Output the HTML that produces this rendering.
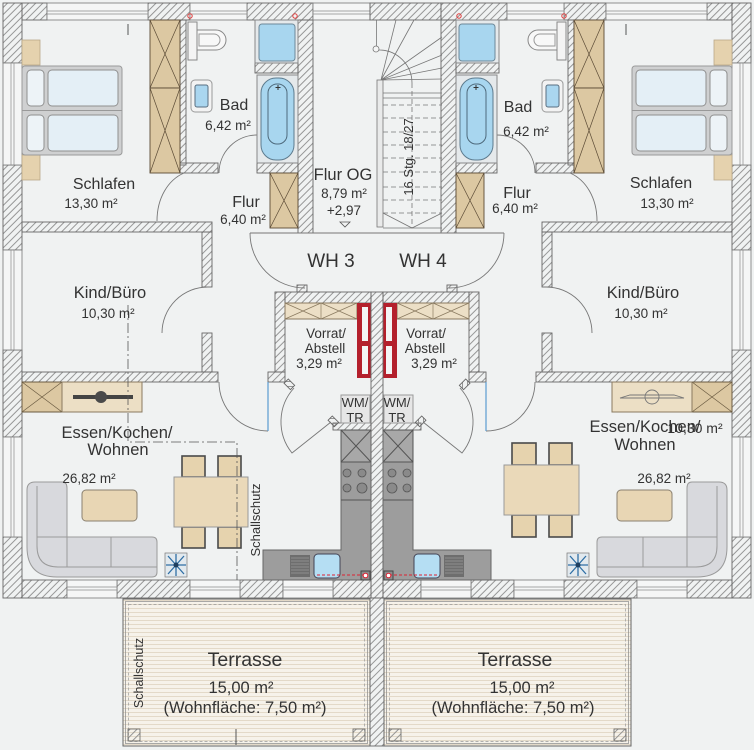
<!DOCTYPE html>
<html><head><meta charset="utf-8"><style>
html,body{margin:0;padding:0;background:#f0f2f2;}
svg{display:block;}
text{font-family:"Liberation Sans",Arial,sans-serif;fill:#333;}
</style></head><body>
<svg width="754" height="750" viewBox="0 0 754 750" xmlns="http://www.w3.org/2000/svg" xmlns:xlink="http://www.w3.org/1999/xlink">
<defs>
 <pattern id="h1" width="5" height="5" patternUnits="userSpaceOnUse" patternTransform="rotate(45)"><line x1="2.5" y1="0" x2="2.5" y2="5" stroke="#8c8c8c" stroke-width="0.9"/></pattern>
 <pattern id="h2" width="5" height="5" patternUnits="userSpaceOnUse" patternTransform="rotate(-45)"><line x1="2.5" y1="0" x2="2.5" y2="5" stroke="#8c8c8c" stroke-width="0.9"/></pattern>
 <pattern id="st" width="6" height="4" patternUnits="userSpaceOnUse"><rect width="6" height="4" fill="#f6f2ea"/><line x1="0" y1="0.5" x2="6" y2="0.5" stroke="#e3d9c8" stroke-width="1"/></pattern>
 <g id="half">
  <!-- walls (fill inherited hatch) -->
  <g stroke="#666" stroke-width="0.9">
   <rect x="3" y="3" width="19" height="60"/>
   <rect x="3" y="165" width="19" height="85"/>
   <rect x="3" y="350" width="19" height="87"/>
   <rect x="3" y="537" width="19" height="61"/>
   <rect x="22" y="3" width="25" height="17"/>
   <rect x="148" y="3" width="42" height="17"/>
   <rect x="247" y="3" width="66" height="17"/>
   <rect x="22" y="580" width="45" height="18"/>
   <rect x="117" y="580" width="73" height="18"/>
   <rect x="240" y="580" width="43" height="18"/>
   <rect x="333" y="580" width="38" height="18"/>
   <rect x="180" y="20" width="6" height="145"/>
   <rect x="180" y="163" width="38" height="10"/>
   <rect x="257" y="163" width="41" height="10"/>
   <rect x="255" y="63" width="43" height="10"/>
   <rect x="298" y="20" width="15" height="213"/>
   <rect x="22" y="222" width="190" height="10"/>
   <rect x="202" y="232" width="10" height="55"/>
   <rect x="202" y="333" width="10" height="39"/>
   <rect x="22" y="372" width="196" height="10"/>
   <rect x="268" y="372" width="17" height="10"/>
   <rect x="275" y="292" width="10" height="80"/>
   <rect x="285" y="292" width="86" height="11"/>
   <rect x="297" y="285" width="10" height="7"/>
   <rect x="333" y="423" width="38" height="7"/>
   <rect x="-4" y="-3" width="9" height="6" transform="translate(289,384) rotate(45)"/>
   <rect x="-4" y="-3" width="9" height="6" transform="translate(333,421) rotate(45)"/>
  </g>
  <!-- windows -->
  <g fill="#f5f6f6" stroke="#777" stroke-width="0.8">
   <rect x="3" y="63" width="19" height="102"/>
   <rect x="3" y="250" width="19" height="100"/>
   <rect x="3" y="437" width="19" height="100"/>
   <rect x="47" y="3" width="101" height="17"/>
   <rect x="190" y="3" width="57" height="17"/>
   <rect x="67" y="580" width="50" height="18"/>
   <rect x="190" y="580" width="50" height="18"/>
   <rect x="283" y="580" width="50" height="18"/>
  </g>
  <g stroke="#8a8a8a" stroke-width="0.7" fill="none">
   <path d="M11,63 V165 M14,63 V165 M11,250 V350 M14,250 V350 M11,437 V537 M14,437 V537"/>
   <path d="M47,11 H148 M47,14 H148 M190,11 H247 M190,14 H247"/>
   <path d="M67,587 H117 M67,590 H117 M190,587 H240 M190,590 H240 M283,587 H333 M283,590 H333"/>
  </g>
  <!-- doors -->
  <g fill="none" stroke="#777" stroke-width="0.9">
   <path d="M157,221 C157,198 168,180 184,173"/>
   <path d="M219,173 A38,38 0 0 1 257,135"/>
   <path d="M162,333 A46,46 0 0 1 208,287"/>
   <path d="M219,382 A49,49 0 0 0 268,431"/>
   <path d="M294,388 A50,50 0 0 0 292,453 L331,422"/>
   <path d="M250,233 H377"/>
   <path d="M250,233 A55,55 0 0 0 305,288"/>
  </g>
  <line x1="268" y1="382" x2="268" y2="431" stroke="#5b9bd0" stroke-width="1.2"/>
  <!-- bed -->
  <rect x="22" y="40" width="18" height="25" fill="#e5d2ae" stroke="#b9a888" stroke-width="0.8"/>
  <rect x="22" y="155" width="18" height="25" fill="#e5d2ae" stroke="#b9a888" stroke-width="0.8"/>
  <rect x="22" y="66" width="100" height="89" rx="3" fill="#cfd0d1" stroke="#9a9a9a"/>
  <line x1="22" y1="110.5" x2="122" y2="110.5" stroke="#999"/>
  <rect x="27" y="70" width="17" height="36" rx="4" fill="#edf3f7" stroke="#8f8f8f"/>
  <rect x="48" y="70" width="70" height="36" rx="4" fill="#e4eff6" stroke="#8f8f8f"/>
  <rect x="27" y="115" width="17" height="36" rx="4" fill="#edf3f7" stroke="#8f8f8f"/>
  <rect x="48" y="115" width="70" height="36" rx="4" fill="#e4eff6" stroke="#8f8f8f"/>
  <line x1="128" y1="24" x2="128" y2="35" stroke="#555"/>
  <!-- wardrobes -->
  <g fill="#dcc8a2" stroke="#5a4a35" stroke-width="0.9">
   <rect x="150" y="20" width="30" height="68"/>
   <rect x="150" y="88" width="30" height="85"/>
   <rect x="270" y="173" width="28" height="55"/>
  </g>
  <path d="M150,20 L180,88 M180,20 L150,88 M150,88 L180,173 M180,88 L150,173 M270,173 L298,228 M298,173 L270,228" stroke="#5a4a35" stroke-width="0.7" fill="none"/>
  <!-- toilet, sink -->
  <rect x="188" y="22" width="9" height="38" fill="#f4f4f4" stroke="#888"/>
  <path d="M197,30 H216 A10,10 0 0 1 216,50 H197 Z" fill="#f8f8f8" stroke="#888"/>
  <path d="M199,34 H214 A6,6 0 0 1 214,46 H199 Z" fill="none" stroke="#999"/>
  <rect x="191" y="80" width="21" height="32" rx="4" fill="#f3f3f3" stroke="#999"/>
  <rect x="195" y="85" width="13" height="22" rx="2" fill="#aad6ef" stroke="#5a6f80"/>
  <!-- shower, tub -->
  <rect x="255" y="20" width="43" height="43" fill="#e5e9eb" stroke="#888"/>
  <rect x="259" y="24" width="36" height="37" rx="3" fill="#a8d6ef" stroke="#6d8898"/>
  <rect x="257" y="75" width="41" height="88" fill="#e5e9eb" stroke="#888"/>
  <rect x="261" y="78" width="33" height="82" rx="15" fill="#a8d6ef" stroke="#5d7b8e"/>
  <rect x="268" y="84" width="19" height="60" rx="9" fill="none" stroke="#4e6a7c"/>
  <path d="M278,85 v5 M275.5,87.5 h5" stroke="#333" fill="none"/>
  <circle cx="190" cy="16" r="2.2" fill="none" stroke="#e03a3a" stroke-width="1"/>
  <circle cx="295" cy="16" r="2.2" fill="none" stroke="#e03a3a" stroke-width="1"/>
  <!-- sideboard -->
  <rect x="22" y="382" width="40" height="30" fill="#dcc8a2" stroke="#6a5a40"/>
  <path d="M22,382 L62,412 M62,382 L22,412" stroke="#6a5a40" stroke-width="0.7" fill="none"/>
  <rect x="62" y="382" width="80" height="30" fill="#ecdfc5" stroke="#8a7a60"/>
  <!-- sofa -->
  <path d="M27,490 Q27,482 35,482 H62 Q67,482 67,488 V537 H152 Q157,537 157,542 V572 Q157,577 152,577 H57 Q27,577 27,547 Z" fill="#d8d9dd" stroke="#9a9a9a"/>
  <path d="M37,486 V546 Q37,567 58,567 H157 M37,537 H67 M67,537 V567 M111,537 V567" fill="none" stroke="#9a9a9a"/>
  <rect x="82" y="490" width="55" height="31" rx="4" fill="#e8d6b4" stroke="#8a8070"/>
  <!-- plant -->
  <rect x="165" y="553" width="22" height="24" fill="#e2e9ee" stroke="#777" stroke-width="0.7"/>
  <path d="M168,556 L184,574 M184,556 L168,574 M176,554 V576 M166,565 H186" stroke="#2f6fa5" stroke-width="1.3" fill="none"/>
  <circle cx="176" cy="565" r="2.5" fill="#1f3f5f"/>
  <!-- kitchen -->
  <path d="M341,430 H371 V580 H263 V550 H341 Z" fill="#9d9d9d" stroke="#666"/>
  <rect x="341" y="430" width="30" height="32" fill="#a8a8a8" stroke="#555"/>
  <path d="M341,430 L371,462 M371,430 L341,462 M341,500 H371" stroke="#555" fill="none"/>
  <g fill="#8a8a8a" stroke="#555" stroke-width="0.8">
   <circle cx="347" cy="473" r="4"/><circle cx="362" cy="473" r="4"/>
   <circle cx="347" cy="488" r="4"/><circle cx="362" cy="488" r="5"/>
  </g>
  <rect x="290" y="555" width="20" height="22" fill="#6e6e6e"/>
  <path d="M291,558 H309 M291,561 H309 M291,564 H309 M291,567 H309 M291,570 H309 M291,573 H309" stroke="#9a9a9a" stroke-width="0.8" fill="none"/>
  <rect x="314" y="554" width="26" height="24" rx="4" fill="#b5def3" stroke="#445"/>
  <rect x="361" y="571" width="9" height="9" fill="#8c8c8c" stroke="#444"/>
  <path d="M317,575 H363" stroke="#d23" stroke-dasharray="3,2" fill="none"/>
  <circle cx="365.5" cy="575.5" r="2.3" fill="#fff" stroke="#d23"/>
  <rect x="341" y="395" width="29" height="28" fill="#e6e6e6" stroke="#9a9a9a"/>
  <!-- vorrat -->
  <rect x="285" y="303" width="72" height="16" fill="#ecdfc6" stroke="#8a7a60"/>
  <path d="M285,303 L321,319 M321,303 L285,319 M321,303 L357,319 M357,303 L321,319 M321,303 V319" stroke="#8a7a60" stroke-width="0.7" fill="none"/>
  <rect x="357" y="303" width="14" height="75" fill="#b4202c"/>
  <rect x="362" y="307" width="6" height="34" fill="#f4f4f4"/>
  <rect x="362" y="346" width="6" height="28" fill="#f4f4f4"/>
 </g>
</defs>
<rect width="754" height="750" fill="#f0f2f2"/>
<use xlink:href="#half" href="#half" fill="url(#h1)"/>
<use xlink:href="#half" href="#half" fill="url(#h2)" transform="matrix(-1 0 0 1 754 0)"/>

<!-- central walls -->
<rect x="371" y="292" width="12" height="306" fill="url(#h1)" stroke="#666" stroke-width="0.9"/>
<rect x="313" y="3" width="57" height="17" fill="#f5f6f6" stroke="#777" stroke-width="0.8"/>
<path d="M313,11 H370 M313,14 H370" stroke="#8a8a8a" stroke-width="0.7"/>
<rect x="370" y="3" width="71" height="17" fill="url(#h1)" stroke="#666" stroke-width="0.9"/>

<!-- stairs -->
<g fill="none" stroke="#777" stroke-width="0.8">
 <line x1="376.5" y1="20" x2="376.5" y2="46"/>
 <circle cx="376" cy="49" r="3" fill="#f4f5f5"/>
 <path d="M379,50 A33,33 0 0 1 412,83"/>
 <path d="M381,80 L396,20 M381,80 L414,20 M381,80 L442,37 M381,80 L442,55 M381,80 L442,68 M381,80 L442,79"/>
 <path d="M383,93 H442 M383,98 H442"/>
 <path d="M383,105 H442 M383,118 H442 M383,132 H442 M383,145 H442 M383,158 H442 M383,172 H442 M383,187 H442 M383,200 H442 M383,213 H442" stroke-dasharray="5,3"/>
 <line x1="412" y1="83" x2="412" y2="228" stroke-dasharray="5,3"/>
 <path d="M383,213 L412,228 L442,213"/>
 <line x1="383" y1="228" x2="442" y2="228"/>
</g>
<rect x="377" y="80" width="6" height="147" fill="#e9eaea" stroke="#777" stroke-width="0.8"/>
<text transform="translate(413,157) rotate(-90)" text-anchor="middle" font-size="13">16 Stg. 18/27</text>
<path d="M340,222 L350,222 L345,227 Z" fill="none" stroke="#555" stroke-width="0.8"/>

<!-- TV symbols -->
<rect x="73" y="395" width="60" height="4" fill="#444"/>
<circle cx="101" cy="397" r="6" fill="#4a4a4a"/>
<g fill="none" stroke="#777" stroke-width="0.9">
 <path d="M620,398 L630,395 H674 L684,398 Z"/>
 <circle cx="652" cy="397" r="7"/>
</g>

<!-- dining tables -->
<g fill="#e6d3ae" stroke="#4a4a4a" stroke-width="1.6">
 <rect x="182" y="456" width="23" height="21"/>
 <rect x="218" y="456" width="23" height="21"/>
 <rect x="182" y="527" width="23" height="21"/>
 <rect x="218" y="527" width="23" height="21"/>
 <rect x="512" y="443" width="24" height="22"/>
 <rect x="549" y="443" width="23" height="22"/>
 <rect x="512" y="515" width="24" height="22"/>
 <rect x="549" y="515" width="23" height="22"/>
</g>
<rect x="174" y="477" width="74" height="50" fill="#ead9b9" stroke="#999"/>
<rect x="504" y="465" width="75" height="50" fill="#ead9b9" stroke="#999"/>
<path d="M128,305 V442 H237 V580" fill="none" stroke="#555" stroke-width="0.8" stroke-dasharray="10,3,2,3"/>

<!-- terraces -->
<rect x="370" y="598" width="14" height="148" fill="url(#h1)" stroke="#666" stroke-width="0.9"/>
<g>
 <rect x="123" y="599" width="247" height="147" fill="url(#st)" stroke="#666"/>
 <rect x="125.5" y="601.5" width="242" height="142" fill="none" stroke="#888" stroke-width="0.7"/>
 <rect x="128.5" y="604.5" width="236" height="137" fill="none" stroke="#999" stroke-dasharray="3,2" stroke-width="0.7"/>
 <rect x="128" y="729" width="12" height="12" fill="url(#h1)" stroke="#666" stroke-width="0.8"/>
 <rect x="353" y="729" width="12" height="12" fill="url(#h1)" stroke="#666" stroke-width="0.8"/>
 <line x1="236" y1="729" x2="236" y2="745" stroke="#555"/>
 <rect x="384" y="599" width="247" height="147" fill="url(#st)" stroke="#666"/>
 <rect x="386.5" y="601.5" width="242" height="142" fill="none" stroke="#888" stroke-width="0.7"/>
 <rect x="389.5" y="604.5" width="236" height="137" fill="none" stroke="#999" stroke-dasharray="3,2" stroke-width="0.7"/>
 <rect x="389" y="729" width="12" height="12" fill="url(#h1)" stroke="#666" stroke-width="0.8"/>
 <rect x="614" y="729" width="12" height="12" fill="url(#h1)" stroke="#666" stroke-width="0.8"/>
</g>

<!-- labels -->
<g text-anchor="middle">
 <text x="104" y="189" font-size="16">Schlafen</text>
 <text x="91" y="208" font-size="13.5">13,30 m²</text>
 <text x="234" y="110" font-size="16">Bad</text>
 <text x="228" y="130" font-size="13.5">6,42 m²</text>
 <text x="246" y="207" font-size="16">Flur</text>
 <text x="243" y="224" font-size="13.5">6,40 m²</text>
 <text x="343" y="180" font-size="16.5">Flur OG</text>
 <text x="344" y="198" font-size="13.5">8,79 m²</text>
 <text x="344" y="215" font-size="13.5">+2,97</text>
 <text x="331" y="267" font-size="19">WH 3</text>
 <text x="423" y="267" font-size="19">WH 4</text>
 <text x="110" y="298" font-size="16.5">Kind/Büro</text>
 <text x="108" y="318" font-size="13.5">10,30 m²</text>
 <text x="326" y="338" font-size="13.5">Vorrat/</text>
 <text x="325" y="353" font-size="13.5">Abstell</text>
 <text x="319" y="368" font-size="13.5">3,29 m²</text>
 <text x="355" y="407" font-size="13">WM/</text>
 <text x="355" y="422" font-size="13">TR</text>
 <text x="117" y="438" font-size="16.5">Essen/Kochen/</text>
 <text x="118" y="455" font-size="16.5">Wohnen</text>
 <text x="89" y="483" font-size="13.5">26,82 m²</text>

 <text x="518" y="112" font-size="16">Bad</text>
 <text x="526" y="136" font-size="13.5">6,42 m²</text>
 <text x="517" y="198" font-size="16">Flur</text>
 <text x="515" y="213" font-size="13.5">6,40 m²</text>
 <text x="661" y="188" font-size="16">Schlafen</text>
 <text x="667" y="208" font-size="13.5">13,30 m²</text>
 <text x="643" y="298" font-size="16.5">Kind/Büro</text>
 <text x="641" y="318" font-size="13.5">10,30 m²</text>
 <text x="426" y="338" font-size="13.5">Vorrat/</text>
 <text x="425" y="353" font-size="13.5">Abstell</text>
 <text x="434" y="368" font-size="13.5">3,29 m²</text>
 <text x="397" y="407" font-size="13">WM/</text>
 <text x="397" y="422" font-size="13">TR</text>
 <text x="695" y="433" font-size="14">10,30 m²</text>
 <text x="645" y="432" font-size="16.5">Essen/Kochen/</text>
 <text x="645" y="450" font-size="16.5">Wohnen</text>
 <text x="664" y="483" font-size="13.5">26,82 m²</text>

 <text x="245" y="666" font-size="19.5">Terrasse</text>
 <text x="241" y="693" font-size="16.5">15,00 m²</text>
 <text x="245" y="713" font-size="16.5">(Wohnfläche: 7,50 m²)</text>
 <text x="515" y="666" font-size="19.5">Terrasse</text>
 <text x="522" y="693" font-size="16.5">15,00 m²</text>
 <text x="513" y="713" font-size="16.5">(Wohnfläche: 7,50 m²)</text>
</g>
<text transform="translate(260,520) rotate(-90)" text-anchor="middle" font-size="13">Schallschutz</text>
<text transform="translate(143,673) rotate(-90)" text-anchor="middle" font-size="12.5">Schallschutz</text>
</svg>
</body></html>
